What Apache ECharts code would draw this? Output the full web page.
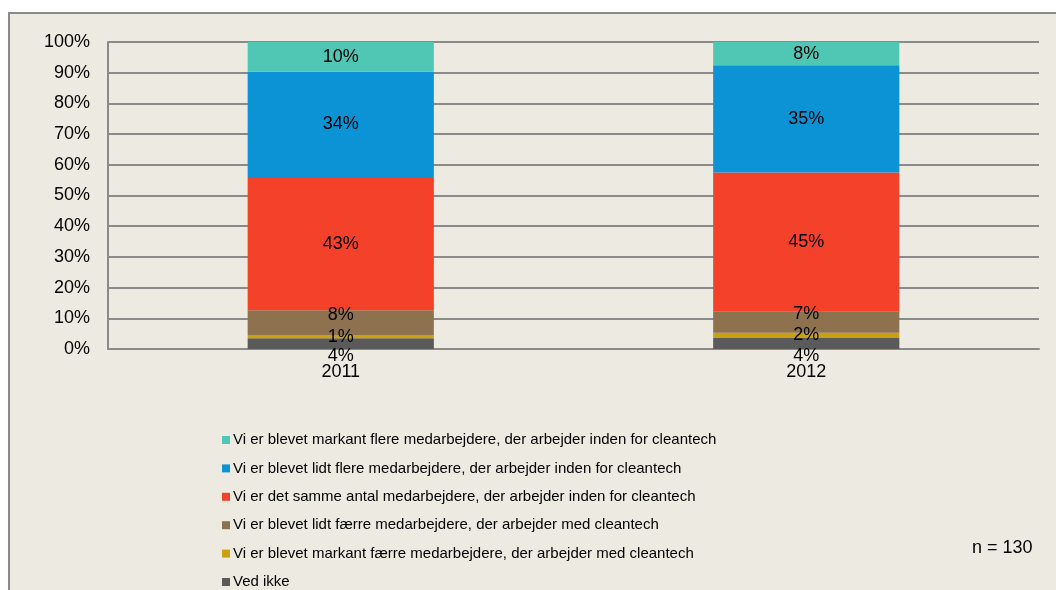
<!DOCTYPE html>
<html>
<head>
<meta charset="utf-8">
<script src="https://cdn.jsdelivr.net/npm/echarts@6/dist/echarts.min.js"></script>
<style>
html,body{margin:0;padding:0;background:#fff;}
#main{width:1056px;height:590px;}
</style>
</head>
<body>
<div id="main"></div>
<script>
// kategorier og andele (procent)
var years = ['2011', '2012'];
var vedIkke      = [3.5, 3.6];
var markantFaerre = [1.1, 1.7];
var lidtFaerre   = [8.0, 6.8];
var samme        = [43.4, 45.4];
var lidtFlere    = [34.3, 34.9];
var markantFlere = [9.7, 7.6];
var yTicks = [0, 10, 20, 30, 40, 50, 60, 70, 80, 90, 100];

var names = [
	'Ved ikke',
	'Vi er blevet markant færre medarbejdere, der arbejder med cleantech',
	'Vi er blevet lidt færre medarbejdere, der arbejder med cleantech',
	'Vi er det samme antal medarbejdere, der arbejder inden for cleantech',
	'Vi er blevet lidt flere medarbejdere, der arbejder inden for cleantech',
	'Vi er blevet markant flere medarbejdere, der arbejder inden for cleantech'
];
var colors = ['#5A5A5A', '#C8A010', '#8E7250', '#F4422A', '#0B93D5', '#50C6B4'];
var values = [vedIkke, markantFaerre, lidtFaerre, samme, lidtFlere, markantFlere];

var font = 'Liberation Sans, Arial, sans-serif';

// label placering pr. serie (som Excel flytter de smaa etiketter)
var labelPos = [
	{position: 'bottom', distance: -2},
	{position: 'inside', offset: [0, 0]},
	{position: 'inside', offset: [0, -8]},
	{position: 'inside'},
	{position: 'inside'},
	{position: 'inside'}
];

var series = [];
for (var i = 0; i < names.length; i++) {
	series.push({
		name: names[i],
		type: 'bar',
		stack: 'total',
		barWidth: '40%',
		data: values[i],
		itemStyle: {color: colors[i]},
		label: Object.assign({
			show: true,
			color: '#000',
			fontSize: 18,
			fontFamily: font,
			formatter: function (p) { return Math.round(p.value) + '%'; }
		}, labelPos[i])
	});
}

var chart = echarts.init(document.getElementById('main'));
chart.setOption({
	animation: false,
	graphic: [{
		type: 'rect',
		z: -10,
		shape: {x: 9, y: 13, width: 1100, height: 700},
		style: {fill: '#EDEBE1', stroke: '#8A8A8A', lineWidth: 2}
	}, {
		type: 'text',
		left: 972,
		top: 539,
		style: {text: 'n = 130', fontSize: 18, fontFamily: font, fill: '#000'}
	}],
	grid: {left: 108, right: 17, top: 42, bottom: 241},
	xAxis: {
		type: 'category',
		data: years,
		axisLine: {show: true, lineStyle: {color: '#8A8A8A', width: 2}},
		axisTick: {show: false},
		axisLabel: {color: '#000', fontSize: 18, fontFamily: font, margin: 14}
	},
	yAxis: {
		type: 'value',
		min: 0,
		max: 100,
		interval: 10,
		axisLine: {show: true, lineStyle: {color: '#8A8A8A', width: 2}},
		axisTick: {show: false},
		splitLine: {lineStyle: {color: '#8A8A8A', width: 2}},
		axisLabel: {
			color: '#000', fontSize: 18, fontFamily: font, margin: 18,
			formatter: function (v) { return yTicks.indexOf(v) >= 0 ? v + '%' : ''; }
		}
	},
	legend: {
		orient: 'vertical',
		left: 217,
		top: 426,
		height: 200,
		data: names.slice().reverse(),
		icon: 'rect',
		itemWidth: 8,
		itemHeight: 8,
		itemGap: 10.4,
		textStyle: {color: '#000', fontSize: 15, fontFamily: font, lineHeight: 18, padding: [0, 0, 0, -2]}
	},
	series: series
});
</script>
</body>
</html>
